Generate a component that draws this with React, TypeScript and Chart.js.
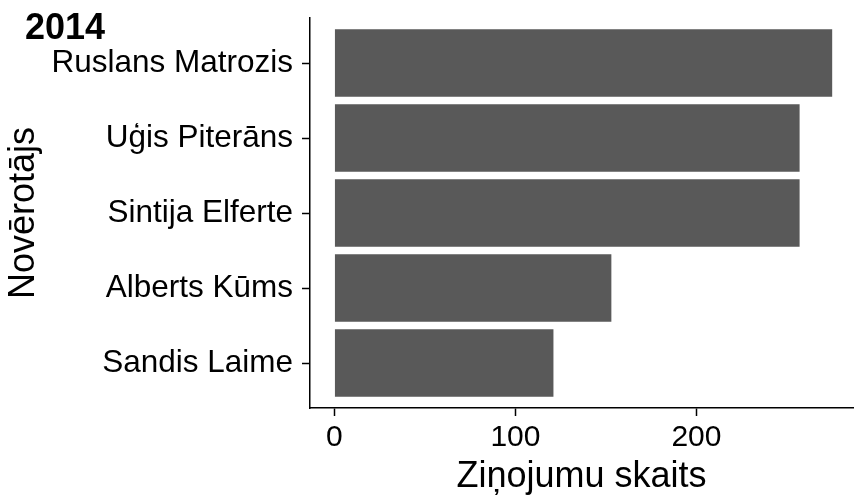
import React, { useEffect, useRef } from "react";
import { Chart, registerables } from "chart.js";

Chart.register(...registerables);

const names: string[] = ["Ruslans Matrozis", "Uģis Piterāns", "Sintija Elferte", "Alberts Kūms", "Sandis Laime"];
const counts: number[] = [275, 257, 257, 153, 121];
const xTicks: number[] = [0, 100, 200];
const chartTitle = "2014";
const xTitle = "Ziņojumu skaits";
const yTitle = "Novērotājs";

const FONT = "'Liberation Sans', Arial, Helvetica, sans-serif";

export default function App() {
  const ref = useRef<HTMLCanvasElement | null>(null);

  useEffect(() => {
    document.body.style.margin = "0";
    const canvas = ref.current;
    if (!canvas) return;

    const titlePlugin = {
      id: "ggTitle",
      afterDraw(chart: any) {
        const ctx = chart.ctx;
        ctx.save();
        ctx.fillStyle = "#000";
        ctx.font = `bold 36px ${FONT}`;
        ctx.textAlign = "left";
        ctx.textBaseline = "alphabetic";
        ctx.fillText(chartTitle, 25, 39);
        ctx.restore();
      },
    };

    const chart = new Chart(canvas, {
      type: "bar",
      data: {
        datasets: [
          {
            data: counts.map((v, i) => ({ x: v, y: i })),
            backgroundColor: "#595959",
            borderWidth: 0,
            barPercentage: 0.9,
            categoryPercentage: 1,
          },
        ],
      },
      plugins: [titlePlugin],
      options: {
        indexAxis: "y",
        animation: false,
        responsive: false,
        maintainAspectRatio: false,
        layout: { padding: { top: 18, right: 1, left: 0, bottom: 0 } },
        plugins: {
          legend: { display: false },
          tooltip: { enabled: false },
          title: { display: false },
        },
        scales: {
          x: {
            type: "linear",
            min: -13.5,
            max: 286.5,
            offset: false,
            afterBuildTicks(scale: any) {
              scale.ticks = xTicks.map((v) => ({ value: v }));
            },
            afterFit(scale: any) {
              scale.height = 91;
              scale.paddingLeft = 0;
              scale.paddingRight = 0;
            },
            grid: {
              offset: false,
              drawOnChartArea: false,
              drawTicks: true,
              tickLength: 8,
              tickColor: "#000",
              tickWidth: 1.5,
            },
            border: { display: true, color: "#000", width: 1.5 },
            ticks: {
              color: "#000",
              font: { family: FONT, size: 30 },
              padding: 4,
              maxRotation: 0,
            },
            title: {
              display: true,
              text: xTitle,
              color: "#000",
              font: { family: FONT, size: 36 },
              padding: { top: 0, bottom: 0 },
            },
          },
          y: {
            type: "linear",
            min: -0.6,
            max: 4.6,
            reverse: true,
            offset: false,
            afterBuildTicks(scale: any) {
              scale.ticks = names.map((_, i) => ({ value: i }));
            },
            afterFit(scale: any) {
              scale.width = 310;
              scale.paddingTop = 0;
              scale.paddingBottom = 0;
            },
            grid: {
              offset: false,
              drawOnChartArea: false,
              drawTicks: true,
              tickLength: 8,
              tickColor: "#000",
              tickWidth: 1.5,
            },
            border: { display: true, color: "#000", width: 1.5 },
            ticks: {
              color: "#000",
              font: { family: FONT, size: 31.5 },
              padding: 9,
              callback: (v: any) => names[Number(v)] ?? "",
            },
            title: {
              display: true,
              text: yTitle,
              color: "#000",
              font: { family: FONT, size: 36 },
              padding: { top: 2, bottom: 0 },
            },
          },
        },
      },
    } as any);

    return () => chart.destroy();
  }, []);

  return (
    <canvas ref={ref} width={854} height={499} style={{ display: "block", width: 854, height: 499 }} />
  );
}
